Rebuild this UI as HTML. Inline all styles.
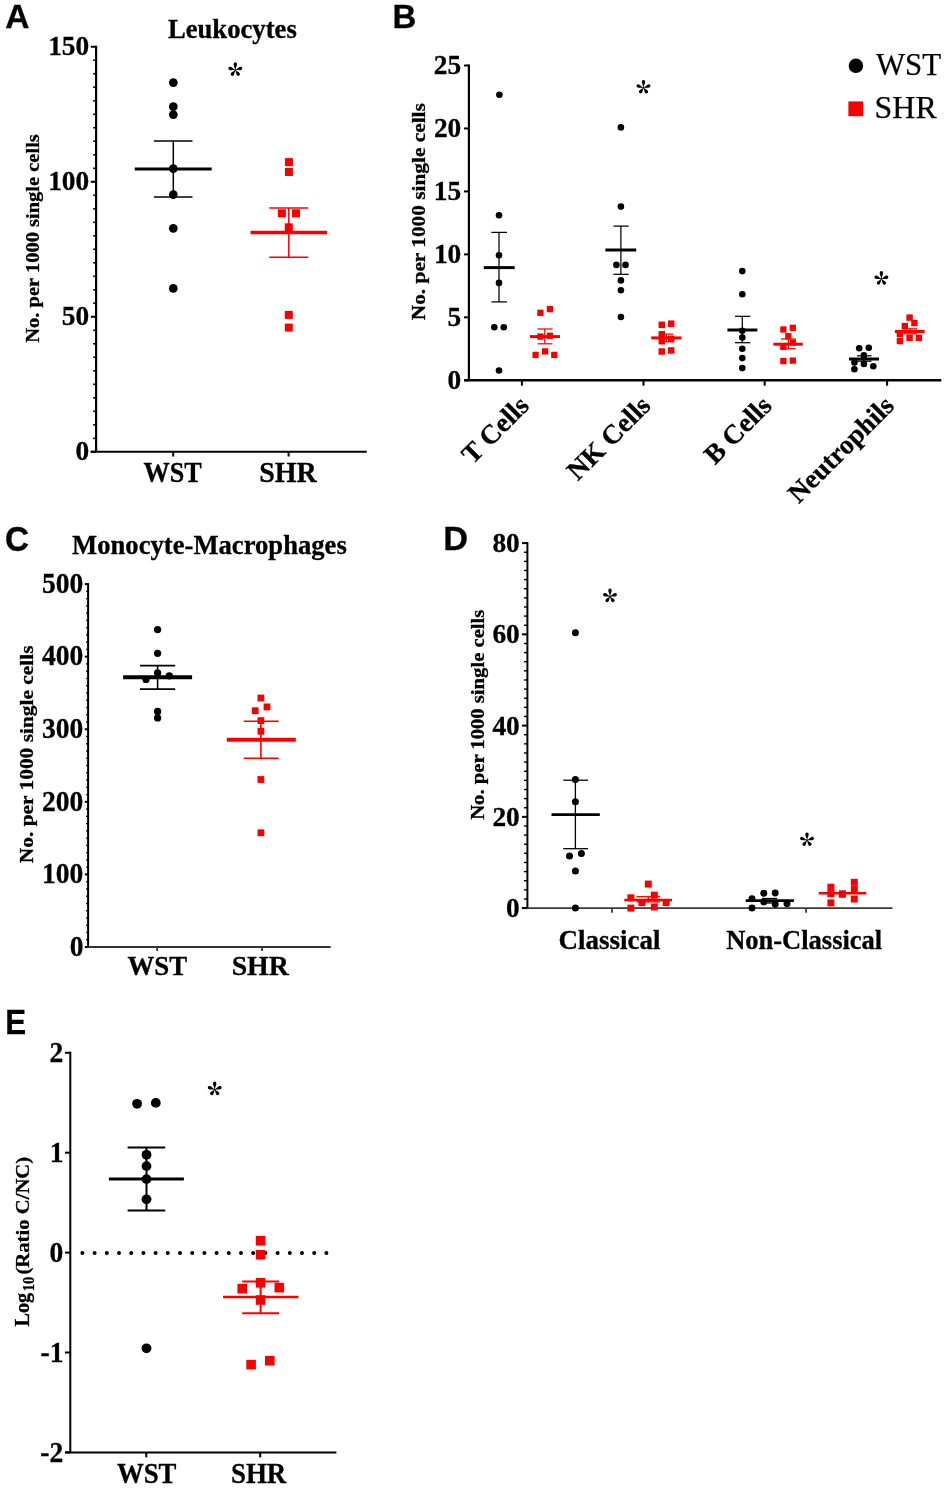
<!DOCTYPE html>
<html><head><meta charset="utf-8"><style>
html,body{margin:0;padding:0;background:#fff;}
svg{display:block;will-change:transform;}
text{stroke:#000;stroke-width:0.25px;}
text[font-weight=bold]{stroke-width:0.3px;}
</style></head><body>
<svg width="945" height="1489" viewBox="0 0 945 1489">
<rect width="945" height="1489" fill="#fff"/>
<text x="5.26" y="28.10" font-family="Liberation Sans" font-weight="bold" font-size="33.48" textLength="24.25" lengthAdjust="spacingAndGlyphs">A</text>
<text x="167.90" y="38.30" font-family="Liberation Serif, serif" font-weight="bold" font-size="26.62" textLength="128.91" lengthAdjust="spacingAndGlyphs" fill="#000">Leukocytes</text>
<line x1="96.10" y1="45.75" x2="96.10" y2="451.80" stroke="#000" stroke-width="2.2"/>
<line x1="90.70" y1="451.80" x2="366.70" y2="451.80" stroke="#000" stroke-width="2.1"/>
<line x1="90.80" y1="451.80" x2="96.10" y2="451.80" stroke="#000" stroke-width="2.0"/>
<text x="75.52" y="460.34" font-family="Liberation Serif" font-weight="bold" font-size="28.20" textLength="13.68" lengthAdjust="spacingAndGlyphs">0</text>
<line x1="93.20" y1="438.30" x2="96.10" y2="438.30" stroke="#000" stroke-width="1.6"/>
<line x1="93.20" y1="424.80" x2="96.10" y2="424.80" stroke="#000" stroke-width="1.6"/>
<line x1="93.20" y1="411.30" x2="96.10" y2="411.30" stroke="#000" stroke-width="1.6"/>
<line x1="93.20" y1="397.79" x2="96.10" y2="397.79" stroke="#000" stroke-width="1.6"/>
<line x1="93.20" y1="384.29" x2="96.10" y2="384.29" stroke="#000" stroke-width="1.6"/>
<line x1="93.20" y1="370.79" x2="96.10" y2="370.79" stroke="#000" stroke-width="1.6"/>
<line x1="93.20" y1="357.29" x2="96.10" y2="357.29" stroke="#000" stroke-width="1.6"/>
<line x1="93.20" y1="343.79" x2="96.10" y2="343.79" stroke="#000" stroke-width="1.6"/>
<line x1="93.20" y1="330.29" x2="96.10" y2="330.29" stroke="#000" stroke-width="1.6"/>
<line x1="90.80" y1="316.78" x2="96.10" y2="316.78" stroke="#000" stroke-width="2.0"/>
<text x="61.84" y="325.32" font-family="Liberation Serif" font-weight="bold" font-size="28.20" textLength="27.35" lengthAdjust="spacingAndGlyphs">50</text>
<line x1="93.20" y1="303.28" x2="96.10" y2="303.28" stroke="#000" stroke-width="1.6"/>
<line x1="93.20" y1="289.78" x2="96.10" y2="289.78" stroke="#000" stroke-width="1.6"/>
<line x1="93.20" y1="276.28" x2="96.10" y2="276.28" stroke="#000" stroke-width="1.6"/>
<line x1="93.20" y1="262.78" x2="96.10" y2="262.78" stroke="#000" stroke-width="1.6"/>
<line x1="93.20" y1="249.28" x2="96.10" y2="249.28" stroke="#000" stroke-width="1.6"/>
<line x1="93.20" y1="235.77" x2="96.10" y2="235.77" stroke="#000" stroke-width="1.6"/>
<line x1="93.20" y1="222.27" x2="96.10" y2="222.27" stroke="#000" stroke-width="1.6"/>
<line x1="93.20" y1="208.77" x2="96.10" y2="208.77" stroke="#000" stroke-width="1.6"/>
<line x1="93.20" y1="195.27" x2="96.10" y2="195.27" stroke="#000" stroke-width="1.6"/>
<line x1="90.80" y1="181.77" x2="96.10" y2="181.77" stroke="#000" stroke-width="2.0"/>
<text x="48.16" y="190.30" font-family="Liberation Serif" font-weight="bold" font-size="28.20" textLength="41.03" lengthAdjust="spacingAndGlyphs">100</text>
<line x1="93.20" y1="168.26" x2="96.10" y2="168.26" stroke="#000" stroke-width="1.6"/>
<line x1="93.20" y1="154.76" x2="96.10" y2="154.76" stroke="#000" stroke-width="1.6"/>
<line x1="93.20" y1="141.26" x2="96.10" y2="141.26" stroke="#000" stroke-width="1.6"/>
<line x1="93.20" y1="127.76" x2="96.10" y2="127.76" stroke="#000" stroke-width="1.6"/>
<line x1="93.20" y1="114.26" x2="96.10" y2="114.26" stroke="#000" stroke-width="1.6"/>
<line x1="93.20" y1="100.76" x2="96.10" y2="100.76" stroke="#000" stroke-width="1.6"/>
<line x1="93.20" y1="87.25" x2="96.10" y2="87.25" stroke="#000" stroke-width="1.6"/>
<line x1="93.20" y1="73.75" x2="96.10" y2="73.75" stroke="#000" stroke-width="1.6"/>
<line x1="93.20" y1="60.25" x2="96.10" y2="60.25" stroke="#000" stroke-width="1.6"/>
<line x1="90.80" y1="46.75" x2="96.10" y2="46.75" stroke="#000" stroke-width="2.0"/>
<text x="48.16" y="55.29" font-family="Liberation Serif" font-weight="bold" font-size="28.20" textLength="41.03" lengthAdjust="spacingAndGlyphs">150</text>
<line x1="173.20" y1="451.80" x2="173.20" y2="456.50" stroke="#000" stroke-width="2.0"/>
<line x1="288.60" y1="451.80" x2="288.60" y2="456.50" stroke="#000" stroke-width="2.0"/>
<text transform="translate(39.30,342.30) rotate(-90)" x="-0.41" y="0" font-family="Liberation Serif, serif" font-weight="bold" font-size="19.42" textLength="208.53" lengthAdjust="spacingAndGlyphs">No. per 1000 single cells</text>
<text x="143.61" y="482.10" font-family="Liberation Serif, serif" font-weight="bold" font-size="28.94" textLength="58.17" lengthAdjust="spacingAndGlyphs" fill="#000">WST</text>
<text x="259.16" y="482.10" font-family="Liberation Serif, serif" font-weight="bold" font-size="28.94" textLength="57.59" lengthAdjust="spacingAndGlyphs" fill="#000">SHR</text>
<g fill="#000"><path transform="translate(235.30,70.10) rotate(0)" d="M0,0 C-0.85,-3.12 -1.70,-4.57 -1.70,-6.10 A1.70,1.70 0 0 1 1.70,-6.10 C1.70,-4.57 0.85,-3.12 0,0 Z"/><path transform="translate(235.30,70.10) rotate(72)" d="M0,0 C-0.85,-2.88 -1.70,-3.97 -1.70,-5.50 A1.70,1.70 0 0 1 1.70,-5.50 C1.70,-3.97 0.85,-2.88 0,0 Z"/><path transform="translate(235.30,70.10) rotate(144)" d="M0,0 C-0.85,-2.68 -1.70,-3.47 -1.70,-5.00 A1.70,1.70 0 0 1 1.70,-5.00 C1.70,-3.47 0.85,-2.68 0,0 Z"/><path transform="translate(235.30,70.10) rotate(216)" d="M0,0 C-0.85,-2.68 -1.70,-3.47 -1.70,-5.00 A1.70,1.70 0 0 1 1.70,-5.00 C1.70,-3.47 0.85,-2.68 0,0 Z"/><path transform="translate(235.30,70.10) rotate(288)" d="M0,0 C-0.85,-2.88 -1.70,-3.97 -1.70,-5.50 A1.70,1.70 0 0 1 1.70,-5.50 C1.70,-3.97 0.85,-2.88 0,0 Z"/><circle cx="235.30" cy="70.10" r="0.9"/></g>
<circle cx="173.30" cy="82.60" r="4.35" fill="#000"/>
<circle cx="173.30" cy="106.70" r="4.35" fill="#000"/>
<circle cx="173.30" cy="114.60" r="4.35" fill="#000"/>
<circle cx="173.30" cy="168.60" r="4.35" fill="#000"/>
<circle cx="173.30" cy="194.60" r="4.35" fill="#000"/>
<circle cx="173.30" cy="228.30" r="4.35" fill="#000"/>
<circle cx="173.30" cy="288.40" r="4.35" fill="#000"/>
<line x1="173.30" y1="140.90" x2="173.30" y2="196.90" stroke="#000" stroke-width="1.5"/>
<line x1="153.90" y1="140.90" x2="192.50" y2="140.90" stroke="#000" stroke-width="1.5"/>
<line x1="153.90" y1="196.90" x2="192.50" y2="196.90" stroke="#000" stroke-width="1.5"/>
<line x1="134.80" y1="169.00" x2="211.70" y2="169.00" stroke="#000" stroke-width="3.2"/>
<rect x="284.90" y="158.10" width="8.00" height="8.00" fill="#f80000"/>
<rect x="284.90" y="168.00" width="8.00" height="8.00" fill="#f80000"/>
<rect x="277.90" y="209.30" width="8.00" height="8.00" fill="#f80000"/>
<rect x="292.00" y="209.30" width="8.00" height="8.00" fill="#f80000"/>
<rect x="284.80" y="223.30" width="8.00" height="8.00" fill="#f80000"/>
<rect x="284.80" y="310.90" width="8.00" height="8.00" fill="#f80000"/>
<rect x="284.80" y="323.60" width="8.00" height="8.00" fill="#f80000"/>
<line x1="288.80" y1="208.10" x2="288.80" y2="257.20" stroke="#f80000" stroke-width="1.5"/>
<line x1="269.30" y1="208.10" x2="308.30" y2="208.10" stroke="#f80000" stroke-width="1.5"/>
<line x1="269.30" y1="257.20" x2="308.30" y2="257.20" stroke="#f80000" stroke-width="1.5"/>
<line x1="250.50" y1="232.50" x2="327.10" y2="232.50" stroke="#f80000" stroke-width="3.3"/>
<text x="392.56" y="28.10" font-family="Liberation Sans" font-weight="bold" font-size="33.91" textLength="23.80" lengthAdjust="spacingAndGlyphs">B</text>
<line x1="468.90" y1="64.50" x2="468.90" y2="380.30" stroke="#000" stroke-width="2.2"/>
<line x1="464.00" y1="380.30" x2="941.30" y2="380.30" stroke="#000" stroke-width="2.4"/>
<line x1="464.00" y1="380.30" x2="468.90" y2="380.30" stroke="#000" stroke-width="2.0"/>
<text x="447.62" y="388.84" font-family="Liberation Serif" font-weight="bold" font-size="28.20" textLength="13.68" lengthAdjust="spacingAndGlyphs">0</text>
<line x1="464.00" y1="317.34" x2="468.90" y2="317.34" stroke="#000" stroke-width="2.0"/>
<text x="447.48" y="325.73" font-family="Liberation Serif" font-weight="bold" font-size="28.20" textLength="13.68" lengthAdjust="spacingAndGlyphs">5</text>
<line x1="464.00" y1="254.38" x2="468.90" y2="254.38" stroke="#000" stroke-width="2.0"/>
<text x="433.94" y="262.92" font-family="Liberation Serif" font-weight="bold" font-size="28.20" textLength="27.35" lengthAdjust="spacingAndGlyphs">10</text>
<line x1="464.00" y1="191.42" x2="468.90" y2="191.42" stroke="#000" stroke-width="2.0"/>
<text x="433.80" y="199.89" font-family="Liberation Serif" font-weight="bold" font-size="28.20" textLength="27.35" lengthAdjust="spacingAndGlyphs">15</text>
<line x1="464.00" y1="128.46" x2="468.90" y2="128.46" stroke="#000" stroke-width="2.0"/>
<text x="433.94" y="137.00" font-family="Liberation Serif" font-weight="bold" font-size="28.20" textLength="27.35" lengthAdjust="spacingAndGlyphs">20</text>
<line x1="464.00" y1="65.50" x2="468.90" y2="65.50" stroke="#000" stroke-width="2.0"/>
<text x="433.80" y="73.96" font-family="Liberation Serif" font-weight="bold" font-size="28.20" textLength="27.35" lengthAdjust="spacingAndGlyphs">25</text>
<line x1="521.90" y1="380.30" x2="521.90" y2="385.70" stroke="#000" stroke-width="2.0"/>
<line x1="643.50" y1="380.30" x2="643.50" y2="385.70" stroke="#000" stroke-width="2.0"/>
<line x1="764.70" y1="380.30" x2="764.70" y2="385.70" stroke="#000" stroke-width="2.0"/>
<line x1="887.10" y1="380.30" x2="887.10" y2="385.70" stroke="#000" stroke-width="2.0"/>
<text transform="translate(425.30,319.80) rotate(-90)" x="-0.43" y="0" font-family="Liberation Serif, serif" font-weight="bold" font-size="18.99" textLength="217.06" lengthAdjust="spacingAndGlyphs">No. per 1000 single cells</text>
<circle cx="855.90" cy="65.80" r="7.25" fill="#000"/>
<rect x="848.40" y="101.40" width="14.80" height="14.80" fill="#f80000"/>
<text x="876.00" y="75.20" font-family="Liberation Serif, serif" font-weight="normal" font-size="32.58" textLength="65.09" lengthAdjust="spacingAndGlyphs" fill="#000">WST</text>
<text x="874.63" y="118.20" font-family="Liberation Serif, serif" font-weight="normal" font-size="31.52" textLength="62.09" lengthAdjust="spacingAndGlyphs" fill="#000">SHR</text>
<g fill="#000"><path transform="translate(643.50,87.70) rotate(0)" d="M0,0 C-0.85,-3.12 -1.70,-4.57 -1.70,-6.10 A1.70,1.70 0 0 1 1.70,-6.10 C1.70,-4.57 0.85,-3.12 0,0 Z"/><path transform="translate(643.50,87.70) rotate(72)" d="M0,0 C-0.85,-2.88 -1.70,-3.97 -1.70,-5.50 A1.70,1.70 0 0 1 1.70,-5.50 C1.70,-3.97 0.85,-2.88 0,0 Z"/><path transform="translate(643.50,87.70) rotate(144)" d="M0,0 C-0.85,-2.68 -1.70,-3.47 -1.70,-5.00 A1.70,1.70 0 0 1 1.70,-5.00 C1.70,-3.47 0.85,-2.68 0,0 Z"/><path transform="translate(643.50,87.70) rotate(216)" d="M0,0 C-0.85,-2.68 -1.70,-3.47 -1.70,-5.00 A1.70,1.70 0 0 1 1.70,-5.00 C1.70,-3.47 0.85,-2.68 0,0 Z"/><path transform="translate(643.50,87.70) rotate(288)" d="M0,0 C-0.85,-2.88 -1.70,-3.97 -1.70,-5.50 A1.70,1.70 0 0 1 1.70,-5.50 C1.70,-3.97 0.85,-2.88 0,0 Z"/><circle cx="643.50" cy="87.70" r="0.9"/></g>
<g fill="#000"><path transform="translate(881.40,278.90) rotate(0)" d="M0,0 C-0.85,-3.12 -1.70,-4.57 -1.70,-6.10 A1.70,1.70 0 0 1 1.70,-6.10 C1.70,-4.57 0.85,-3.12 0,0 Z"/><path transform="translate(881.40,278.90) rotate(72)" d="M0,0 C-0.85,-2.88 -1.70,-3.97 -1.70,-5.50 A1.70,1.70 0 0 1 1.70,-5.50 C1.70,-3.97 0.85,-2.88 0,0 Z"/><path transform="translate(881.40,278.90) rotate(144)" d="M0,0 C-0.85,-2.68 -1.70,-3.47 -1.70,-5.00 A1.70,1.70 0 0 1 1.70,-5.00 C1.70,-3.47 0.85,-2.68 0,0 Z"/><path transform="translate(881.40,278.90) rotate(216)" d="M0,0 C-0.85,-2.68 -1.70,-3.47 -1.70,-5.00 A1.70,1.70 0 0 1 1.70,-5.00 C1.70,-3.47 0.85,-2.68 0,0 Z"/><path transform="translate(881.40,278.90) rotate(288)" d="M0,0 C-0.85,-2.88 -1.70,-3.97 -1.70,-5.50 A1.70,1.70 0 0 1 1.70,-5.50 C1.70,-3.97 0.85,-2.88 0,0 Z"/><circle cx="881.40" cy="278.90" r="0.9"/></g>
<circle cx="499.40" cy="94.70" r="3.30" fill="#000"/>
<circle cx="499.00" cy="215.20" r="3.30" fill="#000"/>
<circle cx="499.00" cy="255.20" r="3.30" fill="#000"/>
<circle cx="499.00" cy="282.90" r="3.30" fill="#000"/>
<circle cx="494.30" cy="327.20" r="3.30" fill="#000"/>
<circle cx="503.80" cy="327.20" r="3.30" fill="#000"/>
<circle cx="499.00" cy="370.50" r="3.30" fill="#000"/>
<line x1="499.00" y1="232.40" x2="499.00" y2="301.90" stroke="#000" stroke-width="1.25"/>
<line x1="491.40" y1="232.40" x2="507.00" y2="232.40" stroke="#000" stroke-width="1.25"/>
<line x1="491.40" y1="301.90" x2="507.00" y2="301.90" stroke="#000" stroke-width="1.25"/>
<line x1="483.80" y1="267.60" x2="514.70" y2="267.60" stroke="#000" stroke-width="3.0"/>
<rect x="537.25" y="309.65" width="6.30" height="6.30" fill="#f80000"/>
<rect x="546.75" y="305.95" width="6.30" height="6.30" fill="#f80000"/>
<rect x="537.25" y="333.45" width="6.30" height="6.30" fill="#f80000"/>
<rect x="546.75" y="332.65" width="6.30" height="6.30" fill="#f80000"/>
<rect x="532.45" y="351.75" width="6.30" height="6.30" fill="#f80000"/>
<rect x="541.95" y="348.25" width="6.30" height="6.30" fill="#f80000"/>
<rect x="551.15" y="351.75" width="6.30" height="6.30" fill="#f80000"/>
<line x1="544.80" y1="329.00" x2="544.80" y2="343.80" stroke="#f80000" stroke-width="1.25"/>
<line x1="537.50" y1="329.00" x2="552.40" y2="329.00" stroke="#f80000" stroke-width="1.25"/>
<line x1="537.50" y1="343.80" x2="552.40" y2="343.80" stroke="#f80000" stroke-width="1.25"/>
<line x1="529.90" y1="336.60" x2="560.00" y2="336.60" stroke="#f80000" stroke-width="3.0"/>
<circle cx="620.90" cy="127.40" r="3.30" fill="#000"/>
<circle cx="620.90" cy="206.60" r="3.30" fill="#000"/>
<circle cx="616.40" cy="264.90" r="3.30" fill="#000"/>
<circle cx="625.50" cy="264.90" r="3.30" fill="#000"/>
<circle cx="620.90" cy="280.40" r="3.30" fill="#000"/>
<circle cx="620.90" cy="290.20" r="3.30" fill="#000"/>
<circle cx="620.90" cy="317.00" r="3.30" fill="#000"/>
<line x1="620.90" y1="226.10" x2="620.90" y2="274.30" stroke="#000" stroke-width="1.25"/>
<line x1="613.40" y1="226.10" x2="628.70" y2="226.10" stroke="#000" stroke-width="1.25"/>
<line x1="613.40" y1="274.30" x2="628.70" y2="274.30" stroke="#000" stroke-width="1.25"/>
<line x1="605.40" y1="250.00" x2="636.20" y2="250.00" stroke="#000" stroke-width="3.0"/>
<rect x="658.55" y="321.55" width="6.50" height="6.50" fill="#f80000"/>
<rect x="667.95" y="320.45" width="6.50" height="6.50" fill="#f80000"/>
<rect x="658.55" y="331.05" width="6.50" height="6.50" fill="#f80000"/>
<rect x="658.55" y="337.95" width="6.50" height="6.50" fill="#f80000"/>
<rect x="667.95" y="335.55" width="6.50" height="6.50" fill="#f80000"/>
<rect x="658.55" y="348.25" width="6.50" height="6.50" fill="#f80000"/>
<rect x="667.95" y="347.25" width="6.50" height="6.50" fill="#f80000"/>
<line x1="666.40" y1="334.10" x2="666.40" y2="341.80" stroke="#f80000" stroke-width="1.25"/>
<line x1="659.50" y1="334.10" x2="673.30" y2="334.10" stroke="#f80000" stroke-width="1.25"/>
<line x1="659.50" y1="341.80" x2="673.30" y2="341.80" stroke="#f80000" stroke-width="1.25"/>
<line x1="651.20" y1="337.90" x2="681.50" y2="337.90" stroke="#f80000" stroke-width="3.0"/>
<circle cx="742.30" cy="271.10" r="3.30" fill="#000"/>
<circle cx="742.30" cy="294.20" r="3.30" fill="#000"/>
<circle cx="742.30" cy="330.80" r="3.30" fill="#000"/>
<circle cx="742.30" cy="337.50" r="3.30" fill="#000"/>
<circle cx="742.30" cy="348.70" r="3.30" fill="#000"/>
<circle cx="742.30" cy="358.10" r="3.30" fill="#000"/>
<circle cx="742.30" cy="368.10" r="3.30" fill="#000"/>
<line x1="742.30" y1="316.30" x2="742.30" y2="342.70" stroke="#000" stroke-width="1.25"/>
<line x1="734.90" y1="316.30" x2="750.30" y2="316.30" stroke="#000" stroke-width="1.25"/>
<line x1="734.90" y1="342.70" x2="750.30" y2="342.70" stroke="#000" stroke-width="1.25"/>
<line x1="727.40" y1="330.00" x2="757.30" y2="330.00" stroke="#000" stroke-width="3.0"/>
<rect x="780.25" y="326.35" width="6.30" height="6.30" fill="#f80000"/>
<rect x="789.65" y="324.65" width="6.30" height="6.30" fill="#f80000"/>
<rect x="785.15" y="333.05" width="6.30" height="6.30" fill="#f80000"/>
<rect x="789.65" y="339.35" width="6.30" height="6.30" fill="#f80000"/>
<rect x="780.25" y="343.75" width="6.30" height="6.30" fill="#f80000"/>
<rect x="780.25" y="357.95" width="6.30" height="6.30" fill="#f80000"/>
<rect x="789.65" y="357.45" width="6.30" height="6.30" fill="#f80000"/>
<line x1="788.30" y1="339.00" x2="788.30" y2="348.70" stroke="#f80000" stroke-width="1.25"/>
<line x1="781.00" y1="339.00" x2="795.60" y2="339.00" stroke="#f80000" stroke-width="1.25"/>
<line x1="781.00" y1="348.70" x2="795.60" y2="348.70" stroke="#f80000" stroke-width="1.25"/>
<line x1="773.40" y1="344.20" x2="802.80" y2="344.20" stroke="#f80000" stroke-width="3.0"/>
<circle cx="859.20" cy="348.20" r="3.30" fill="#000"/>
<circle cx="868.80" cy="347.70" r="3.30" fill="#000"/>
<circle cx="863.90" cy="355.40" r="3.30" fill="#000"/>
<circle cx="863.90" cy="363.90" r="3.30" fill="#000"/>
<circle cx="854.40" cy="362.60" r="3.30" fill="#000"/>
<circle cx="854.40" cy="369.30" r="3.30" fill="#000"/>
<circle cx="873.30" cy="366.20" r="3.30" fill="#000"/>
<line x1="864.00" y1="355.80" x2="864.00" y2="361.20" stroke="#000" stroke-width="1.25"/>
<line x1="857.10" y1="355.80" x2="871.50" y2="355.80" stroke="#000" stroke-width="1.25"/>
<line x1="857.10" y1="361.20" x2="871.50" y2="361.20" stroke="#000" stroke-width="1.25"/>
<line x1="849.00" y1="359.00" x2="879.00" y2="359.00" stroke="#000" stroke-width="3.0"/>
<rect x="906.40" y="314.40" width="6.40" height="6.40" fill="#f80000"/>
<rect x="911.20" y="319.80" width="6.40" height="6.40" fill="#f80000"/>
<rect x="901.60" y="322.90" width="6.40" height="6.40" fill="#f80000"/>
<rect x="896.70" y="330.60" width="6.40" height="6.40" fill="#f80000"/>
<rect x="896.70" y="337.80" width="6.40" height="6.40" fill="#f80000"/>
<rect x="906.40" y="334.60" width="6.40" height="6.40" fill="#f80000"/>
<rect x="915.70" y="334.60" width="6.40" height="6.40" fill="#f80000"/>
<line x1="910.20" y1="328.80" x2="910.20" y2="333.80" stroke="#f80000" stroke-width="1.25"/>
<line x1="903.50" y1="328.80" x2="917.00" y2="328.80" stroke="#f80000" stroke-width="1.25"/>
<line x1="903.50" y1="333.80" x2="917.00" y2="333.80" stroke="#f80000" stroke-width="1.25"/>
<line x1="894.90" y1="331.50" x2="924.60" y2="331.50" stroke="#f80000" stroke-width="3.0"/>
<text transform="translate(530.40,407.30) rotate(-45)" text-anchor="end" font-family="Liberation Serif" font-weight="bold" font-size="27.2">T Cells</text>
<text transform="translate(652.00,407.30) rotate(-45)" text-anchor="end" font-family="Liberation Serif" font-weight="bold" font-size="27.2">NK Cells</text>
<text transform="translate(773.20,407.30) rotate(-45)" text-anchor="end" font-family="Liberation Serif" font-weight="bold" font-size="27.2">B Cells</text>
<text transform="translate(895.60,407.30) rotate(-45)" text-anchor="end" font-family="Liberation Serif" font-weight="bold" font-size="27.2">Neutrophils</text>
<text x="4.97" y="550.95" font-family="Liberation Sans" font-weight="bold" font-size="34.79" textLength="24.04" lengthAdjust="spacingAndGlyphs">C</text>
<text x="72.10" y="554.00" font-family="Liberation Serif, serif" font-weight="bold" font-size="27.91" textLength="274.70" lengthAdjust="spacingAndGlyphs" fill="#000">Monocyte-Macrophages</text>
<line x1="88.10" y1="583.10" x2="88.10" y2="947.00" stroke="#000" stroke-width="2.0"/>
<line x1="85.20" y1="947.00" x2="330.70" y2="947.00" stroke="#333" stroke-width="1.8"/>
<line x1="84.80" y1="947.00" x2="88.10" y2="947.00" stroke="#000" stroke-width="2.0"/>
<text x="69.63" y="955.80" font-family="Liberation Serif" font-weight="bold" font-size="29.00" textLength="13.77" lengthAdjust="spacingAndGlyphs">0</text>
<line x1="86.10" y1="939.74" x2="88.10" y2="939.74" stroke="#000" stroke-width="1.4"/>
<line x1="86.10" y1="932.48" x2="88.10" y2="932.48" stroke="#000" stroke-width="1.4"/>
<line x1="86.10" y1="925.23" x2="88.10" y2="925.23" stroke="#000" stroke-width="1.4"/>
<line x1="86.10" y1="917.97" x2="88.10" y2="917.97" stroke="#000" stroke-width="1.4"/>
<line x1="86.10" y1="910.71" x2="88.10" y2="910.71" stroke="#000" stroke-width="1.4"/>
<line x1="86.10" y1="903.45" x2="88.10" y2="903.45" stroke="#000" stroke-width="1.4"/>
<line x1="86.10" y1="896.19" x2="88.10" y2="896.19" stroke="#000" stroke-width="1.4"/>
<line x1="86.10" y1="888.94" x2="88.10" y2="888.94" stroke="#000" stroke-width="1.4"/>
<line x1="86.10" y1="881.68" x2="88.10" y2="881.68" stroke="#000" stroke-width="1.4"/>
<line x1="84.80" y1="874.42" x2="88.10" y2="874.42" stroke="#000" stroke-width="2.0"/>
<text x="42.08" y="883.22" font-family="Liberation Serif" font-weight="bold" font-size="29.00" textLength="41.32" lengthAdjust="spacingAndGlyphs">100</text>
<line x1="86.10" y1="867.16" x2="88.10" y2="867.16" stroke="#000" stroke-width="1.4"/>
<line x1="86.10" y1="859.90" x2="88.10" y2="859.90" stroke="#000" stroke-width="1.4"/>
<line x1="86.10" y1="852.65" x2="88.10" y2="852.65" stroke="#000" stroke-width="1.4"/>
<line x1="86.10" y1="845.39" x2="88.10" y2="845.39" stroke="#000" stroke-width="1.4"/>
<line x1="86.10" y1="838.13" x2="88.10" y2="838.13" stroke="#000" stroke-width="1.4"/>
<line x1="86.10" y1="830.87" x2="88.10" y2="830.87" stroke="#000" stroke-width="1.4"/>
<line x1="86.10" y1="823.61" x2="88.10" y2="823.61" stroke="#000" stroke-width="1.4"/>
<line x1="86.10" y1="816.36" x2="88.10" y2="816.36" stroke="#000" stroke-width="1.4"/>
<line x1="86.10" y1="809.10" x2="88.10" y2="809.10" stroke="#000" stroke-width="1.4"/>
<line x1="84.80" y1="801.84" x2="88.10" y2="801.84" stroke="#000" stroke-width="2.0"/>
<text x="42.08" y="810.64" font-family="Liberation Serif" font-weight="bold" font-size="29.00" textLength="41.32" lengthAdjust="spacingAndGlyphs">200</text>
<line x1="86.10" y1="794.58" x2="88.10" y2="794.58" stroke="#000" stroke-width="1.4"/>
<line x1="86.10" y1="787.32" x2="88.10" y2="787.32" stroke="#000" stroke-width="1.4"/>
<line x1="86.10" y1="780.07" x2="88.10" y2="780.07" stroke="#000" stroke-width="1.4"/>
<line x1="86.10" y1="772.81" x2="88.10" y2="772.81" stroke="#000" stroke-width="1.4"/>
<line x1="86.10" y1="765.55" x2="88.10" y2="765.55" stroke="#000" stroke-width="1.4"/>
<line x1="86.10" y1="758.29" x2="88.10" y2="758.29" stroke="#000" stroke-width="1.4"/>
<line x1="86.10" y1="751.03" x2="88.10" y2="751.03" stroke="#000" stroke-width="1.4"/>
<line x1="86.10" y1="743.78" x2="88.10" y2="743.78" stroke="#000" stroke-width="1.4"/>
<line x1="86.10" y1="736.52" x2="88.10" y2="736.52" stroke="#000" stroke-width="1.4"/>
<line x1="84.80" y1="729.26" x2="88.10" y2="729.26" stroke="#000" stroke-width="2.0"/>
<text x="42.08" y="738.06" font-family="Liberation Serif" font-weight="bold" font-size="29.00" textLength="41.32" lengthAdjust="spacingAndGlyphs">300</text>
<line x1="86.10" y1="722.00" x2="88.10" y2="722.00" stroke="#000" stroke-width="1.4"/>
<line x1="86.10" y1="714.74" x2="88.10" y2="714.74" stroke="#000" stroke-width="1.4"/>
<line x1="86.10" y1="707.49" x2="88.10" y2="707.49" stroke="#000" stroke-width="1.4"/>
<line x1="86.10" y1="700.23" x2="88.10" y2="700.23" stroke="#000" stroke-width="1.4"/>
<line x1="86.10" y1="692.97" x2="88.10" y2="692.97" stroke="#000" stroke-width="1.4"/>
<line x1="86.10" y1="685.71" x2="88.10" y2="685.71" stroke="#000" stroke-width="1.4"/>
<line x1="86.10" y1="678.45" x2="88.10" y2="678.45" stroke="#000" stroke-width="1.4"/>
<line x1="86.10" y1="671.20" x2="88.10" y2="671.20" stroke="#000" stroke-width="1.4"/>
<line x1="86.10" y1="663.94" x2="88.10" y2="663.94" stroke="#000" stroke-width="1.4"/>
<line x1="84.80" y1="656.68" x2="88.10" y2="656.68" stroke="#000" stroke-width="2.0"/>
<text x="42.08" y="665.48" font-family="Liberation Serif" font-weight="bold" font-size="29.00" textLength="41.32" lengthAdjust="spacingAndGlyphs">400</text>
<line x1="86.10" y1="649.42" x2="88.10" y2="649.42" stroke="#000" stroke-width="1.4"/>
<line x1="86.10" y1="642.16" x2="88.10" y2="642.16" stroke="#000" stroke-width="1.4"/>
<line x1="86.10" y1="634.91" x2="88.10" y2="634.91" stroke="#000" stroke-width="1.4"/>
<line x1="86.10" y1="627.65" x2="88.10" y2="627.65" stroke="#000" stroke-width="1.4"/>
<line x1="86.10" y1="620.39" x2="88.10" y2="620.39" stroke="#000" stroke-width="1.4"/>
<line x1="86.10" y1="613.13" x2="88.10" y2="613.13" stroke="#000" stroke-width="1.4"/>
<line x1="86.10" y1="605.87" x2="88.10" y2="605.87" stroke="#000" stroke-width="1.4"/>
<line x1="86.10" y1="598.62" x2="88.10" y2="598.62" stroke="#000" stroke-width="1.4"/>
<line x1="86.10" y1="591.36" x2="88.10" y2="591.36" stroke="#000" stroke-width="1.4"/>
<line x1="84.80" y1="584.10" x2="88.10" y2="584.10" stroke="#000" stroke-width="2.0"/>
<text x="42.08" y="592.90" font-family="Liberation Serif" font-weight="bold" font-size="29.00" textLength="41.32" lengthAdjust="spacingAndGlyphs">500</text>
<line x1="157.20" y1="947.00" x2="157.20" y2="951.00" stroke="#333" stroke-width="1.8"/>
<line x1="262.00" y1="947.00" x2="262.00" y2="951.00" stroke="#333" stroke-width="1.8"/>
<text transform="translate(32.70,862.80) rotate(-90)" x="-0.43" y="0" font-family="Liberation Serif, serif" font-weight="bold" font-size="19.42" textLength="217.77" lengthAdjust="spacingAndGlyphs">No. per 1000 single cells</text>
<text x="127.40" y="975.40" font-family="Liberation Serif, serif" font-weight="bold" font-size="28.33" textLength="59.69" lengthAdjust="spacingAndGlyphs" fill="#000">WST</text>
<text x="231.67" y="975.40" font-family="Liberation Serif, serif" font-weight="bold" font-size="28.33" textLength="57.18" lengthAdjust="spacingAndGlyphs" fill="#000">SHR</text>
<circle cx="157.60" cy="629.60" r="3.65" fill="#000"/>
<circle cx="157.60" cy="653.30" r="3.65" fill="#000"/>
<circle cx="157.60" cy="673.00" r="3.65" fill="#000"/>
<circle cx="146.00" cy="679.40" r="3.65" fill="#000"/>
<circle cx="169.30" cy="675.80" r="3.65" fill="#000"/>
<circle cx="157.60" cy="711.50" r="3.65" fill="#000"/>
<circle cx="157.60" cy="717.90" r="3.65" fill="#000"/>
<line x1="157.60" y1="665.60" x2="157.60" y2="689.10" stroke="#000" stroke-width="1.6"/>
<line x1="140.00" y1="665.60" x2="175.20" y2="665.60" stroke="#000" stroke-width="1.6"/>
<line x1="140.00" y1="689.10" x2="175.20" y2="689.10" stroke="#000" stroke-width="1.6"/>
<line x1="123.10" y1="677.20" x2="192.10" y2="677.20" stroke="#000" stroke-width="4.0"/>
<rect x="257.50" y="694.60" width="6.80" height="6.80" fill="#f80000"/>
<rect x="263.60" y="703.50" width="6.80" height="6.80" fill="#f80000"/>
<rect x="251.80" y="707.30" width="6.80" height="6.80" fill="#f80000"/>
<rect x="257.50" y="717.20" width="6.80" height="6.80" fill="#f80000"/>
<rect x="257.50" y="727.80" width="6.80" height="6.80" fill="#f80000"/>
<rect x="257.50" y="776.10" width="6.80" height="6.80" fill="#f80000"/>
<rect x="257.50" y="829.40" width="6.80" height="6.80" fill="#f80000"/>
<line x1="260.90" y1="721.30" x2="260.90" y2="758.30" stroke="#f80000" stroke-width="1.6"/>
<line x1="243.80" y1="721.30" x2="278.70" y2="721.30" stroke="#f80000" stroke-width="1.6"/>
<line x1="243.80" y1="758.30" x2="278.70" y2="758.30" stroke="#f80000" stroke-width="1.6"/>
<line x1="226.80" y1="739.70" x2="295.80" y2="739.70" stroke="#f80000" stroke-width="4.0"/>
<text x="443.37" y="549.60" font-family="Liberation Sans" font-weight="bold" font-size="34.06" textLength="24.78" lengthAdjust="spacingAndGlyphs">D</text>
<line x1="527.40" y1="542.10" x2="527.40" y2="908.10" stroke="#000" stroke-width="2.0"/>
<line x1="521.70" y1="908.10" x2="892.40" y2="908.10" stroke="#3a3a3a" stroke-width="1.9"/>
<line x1="522.00" y1="908.10" x2="527.40" y2="908.10" stroke="#000" stroke-width="2.0"/>
<text x="506.12" y="917.24" font-family="Liberation Serif" font-weight="bold" font-size="28.20" textLength="13.68" lengthAdjust="spacingAndGlyphs">0</text>
<line x1="524.00" y1="898.98" x2="527.40" y2="898.98" stroke="#000" stroke-width="1.4"/>
<line x1="524.00" y1="889.85" x2="527.40" y2="889.85" stroke="#000" stroke-width="1.4"/>
<line x1="524.00" y1="880.73" x2="527.40" y2="880.73" stroke="#000" stroke-width="1.4"/>
<line x1="524.00" y1="871.60" x2="527.40" y2="871.60" stroke="#000" stroke-width="1.4"/>
<line x1="524.00" y1="862.48" x2="527.40" y2="862.48" stroke="#000" stroke-width="1.4"/>
<line x1="524.00" y1="853.35" x2="527.40" y2="853.35" stroke="#000" stroke-width="1.4"/>
<line x1="524.00" y1="844.23" x2="527.40" y2="844.23" stroke="#000" stroke-width="1.4"/>
<line x1="524.00" y1="835.10" x2="527.40" y2="835.10" stroke="#000" stroke-width="1.4"/>
<line x1="524.00" y1="825.98" x2="527.40" y2="825.98" stroke="#000" stroke-width="1.4"/>
<line x1="522.00" y1="816.85" x2="527.40" y2="816.85" stroke="#000" stroke-width="2.0"/>
<text x="492.44" y="825.99" font-family="Liberation Serif" font-weight="bold" font-size="28.20" textLength="27.35" lengthAdjust="spacingAndGlyphs">20</text>
<line x1="524.00" y1="807.73" x2="527.40" y2="807.73" stroke="#000" stroke-width="1.4"/>
<line x1="524.00" y1="798.60" x2="527.40" y2="798.60" stroke="#000" stroke-width="1.4"/>
<line x1="524.00" y1="789.48" x2="527.40" y2="789.48" stroke="#000" stroke-width="1.4"/>
<line x1="524.00" y1="780.35" x2="527.40" y2="780.35" stroke="#000" stroke-width="1.4"/>
<line x1="524.00" y1="771.23" x2="527.40" y2="771.23" stroke="#000" stroke-width="1.4"/>
<line x1="524.00" y1="762.10" x2="527.40" y2="762.10" stroke="#000" stroke-width="1.4"/>
<line x1="524.00" y1="752.98" x2="527.40" y2="752.98" stroke="#000" stroke-width="1.4"/>
<line x1="524.00" y1="743.85" x2="527.40" y2="743.85" stroke="#000" stroke-width="1.4"/>
<line x1="524.00" y1="734.73" x2="527.40" y2="734.73" stroke="#000" stroke-width="1.4"/>
<line x1="522.00" y1="725.60" x2="527.40" y2="725.60" stroke="#000" stroke-width="2.0"/>
<text x="492.44" y="734.74" font-family="Liberation Serif" font-weight="bold" font-size="28.20" textLength="27.35" lengthAdjust="spacingAndGlyphs">40</text>
<line x1="524.00" y1="716.48" x2="527.40" y2="716.48" stroke="#000" stroke-width="1.4"/>
<line x1="524.00" y1="707.35" x2="527.40" y2="707.35" stroke="#000" stroke-width="1.4"/>
<line x1="524.00" y1="698.23" x2="527.40" y2="698.23" stroke="#000" stroke-width="1.4"/>
<line x1="524.00" y1="689.10" x2="527.40" y2="689.10" stroke="#000" stroke-width="1.4"/>
<line x1="524.00" y1="679.98" x2="527.40" y2="679.98" stroke="#000" stroke-width="1.4"/>
<line x1="524.00" y1="670.85" x2="527.40" y2="670.85" stroke="#000" stroke-width="1.4"/>
<line x1="524.00" y1="661.73" x2="527.40" y2="661.73" stroke="#000" stroke-width="1.4"/>
<line x1="524.00" y1="652.60" x2="527.40" y2="652.60" stroke="#000" stroke-width="1.4"/>
<line x1="524.00" y1="643.48" x2="527.40" y2="643.48" stroke="#000" stroke-width="1.4"/>
<line x1="522.00" y1="634.35" x2="527.40" y2="634.35" stroke="#000" stroke-width="2.0"/>
<text x="492.44" y="643.49" font-family="Liberation Serif" font-weight="bold" font-size="28.20" textLength="27.35" lengthAdjust="spacingAndGlyphs">60</text>
<line x1="524.00" y1="625.23" x2="527.40" y2="625.23" stroke="#000" stroke-width="1.4"/>
<line x1="524.00" y1="616.10" x2="527.40" y2="616.10" stroke="#000" stroke-width="1.4"/>
<line x1="524.00" y1="606.98" x2="527.40" y2="606.98" stroke="#000" stroke-width="1.4"/>
<line x1="524.00" y1="597.85" x2="527.40" y2="597.85" stroke="#000" stroke-width="1.4"/>
<line x1="524.00" y1="588.73" x2="527.40" y2="588.73" stroke="#000" stroke-width="1.4"/>
<line x1="524.00" y1="579.60" x2="527.40" y2="579.60" stroke="#000" stroke-width="1.4"/>
<line x1="524.00" y1="570.48" x2="527.40" y2="570.48" stroke="#000" stroke-width="1.4"/>
<line x1="524.00" y1="561.35" x2="527.40" y2="561.35" stroke="#000" stroke-width="1.4"/>
<line x1="524.00" y1="552.23" x2="527.40" y2="552.23" stroke="#000" stroke-width="1.4"/>
<line x1="522.00" y1="543.10" x2="527.40" y2="543.10" stroke="#000" stroke-width="2.0"/>
<text x="492.44" y="552.24" font-family="Liberation Serif" font-weight="bold" font-size="28.20" textLength="27.35" lengthAdjust="spacingAndGlyphs">80</text>
<line x1="612.00" y1="908.10" x2="612.00" y2="912.80" stroke="#3a3a3a" stroke-width="1.8"/>
<line x1="806.10" y1="908.10" x2="806.10" y2="912.80" stroke="#3a3a3a" stroke-width="1.8"/>
<text transform="translate(483.50,819.40) rotate(-90)" x="-0.41" y="0" font-family="Liberation Serif, serif" font-weight="bold" font-size="18.13" textLength="210.13" lengthAdjust="spacingAndGlyphs">No. per 1000 single cells</text>
<text x="558.45" y="948.80" font-family="Liberation Serif, serif" font-weight="bold" font-size="27.34" textLength="102.03" lengthAdjust="spacingAndGlyphs" fill="#000">Classical</text>
<text x="726.17" y="948.80" font-family="Liberation Serif, serif" font-weight="bold" font-size="27.34" textLength="156.04" lengthAdjust="spacingAndGlyphs" fill="#000">Non-Classical</text>
<g fill="#000"><path transform="translate(610.00,596.40) rotate(0)" d="M0,0 C-0.85,-3.12 -1.70,-4.57 -1.70,-6.10 A1.70,1.70 0 0 1 1.70,-6.10 C1.70,-4.57 0.85,-3.12 0,0 Z"/><path transform="translate(610.00,596.40) rotate(72)" d="M0,0 C-0.85,-2.88 -1.70,-3.97 -1.70,-5.50 A1.70,1.70 0 0 1 1.70,-5.50 C1.70,-3.97 0.85,-2.88 0,0 Z"/><path transform="translate(610.00,596.40) rotate(144)" d="M0,0 C-0.85,-2.68 -1.70,-3.47 -1.70,-5.00 A1.70,1.70 0 0 1 1.70,-5.00 C1.70,-3.47 0.85,-2.68 0,0 Z"/><path transform="translate(610.00,596.40) rotate(216)" d="M0,0 C-0.85,-2.68 -1.70,-3.47 -1.70,-5.00 A1.70,1.70 0 0 1 1.70,-5.00 C1.70,-3.47 0.85,-2.68 0,0 Z"/><path transform="translate(610.00,596.40) rotate(288)" d="M0,0 C-0.85,-2.88 -1.70,-3.97 -1.70,-5.50 A1.70,1.70 0 0 1 1.70,-5.50 C1.70,-3.97 0.85,-2.88 0,0 Z"/><circle cx="610.00" cy="596.40" r="0.9"/></g>
<g fill="#000"><path transform="translate(807.00,840.20) rotate(0)" d="M0,0 C-0.85,-3.12 -1.70,-4.57 -1.70,-6.10 A1.70,1.70 0 0 1 1.70,-6.10 C1.70,-4.57 0.85,-3.12 0,0 Z"/><path transform="translate(807.00,840.20) rotate(72)" d="M0,0 C-0.85,-2.88 -1.70,-3.97 -1.70,-5.50 A1.70,1.70 0 0 1 1.70,-5.50 C1.70,-3.97 0.85,-2.88 0,0 Z"/><path transform="translate(807.00,840.20) rotate(144)" d="M0,0 C-0.85,-2.68 -1.70,-3.47 -1.70,-5.00 A1.70,1.70 0 0 1 1.70,-5.00 C1.70,-3.47 0.85,-2.68 0,0 Z"/><path transform="translate(807.00,840.20) rotate(216)" d="M0,0 C-0.85,-2.68 -1.70,-3.47 -1.70,-5.00 A1.70,1.70 0 0 1 1.70,-5.00 C1.70,-3.47 0.85,-2.68 0,0 Z"/><path transform="translate(807.00,840.20) rotate(288)" d="M0,0 C-0.85,-2.88 -1.70,-3.97 -1.70,-5.50 A1.70,1.70 0 0 1 1.70,-5.50 C1.70,-3.97 0.85,-2.88 0,0 Z"/><circle cx="807.00" cy="840.20" r="0.9"/></g>
<circle cx="575.40" cy="632.80" r="3.50" fill="#000"/>
<circle cx="575.40" cy="779.60" r="3.50" fill="#000"/>
<circle cx="575.40" cy="801.70" r="3.50" fill="#000"/>
<circle cx="569.50" cy="856.00" r="3.50" fill="#000"/>
<circle cx="581.40" cy="853.40" r="3.50" fill="#000"/>
<circle cx="575.40" cy="870.90" r="3.50" fill="#000"/>
<circle cx="575.40" cy="908.10" r="3.50" fill="#000"/>
<line x1="575.40" y1="780.20" x2="575.40" y2="848.70" stroke="#000" stroke-width="1.3"/>
<line x1="563.30" y1="780.20" x2="588.10" y2="780.20" stroke="#000" stroke-width="1.3"/>
<line x1="563.30" y1="848.70" x2="588.10" y2="848.70" stroke="#000" stroke-width="1.3"/>
<line x1="551.50" y1="814.60" x2="599.80" y2="814.60" stroke="#000" stroke-width="2.6"/>
<rect x="644.80" y="880.60" width="7.00" height="7.00" fill="#f80000"/>
<rect x="627.40" y="894.30" width="7.00" height="7.00" fill="#f80000"/>
<rect x="627.40" y="904.60" width="7.00" height="7.00" fill="#f80000"/>
<rect x="638.50" y="899.10" width="7.00" height="7.00" fill="#f80000"/>
<rect x="650.80" y="891.70" width="7.00" height="7.00" fill="#f80000"/>
<rect x="650.80" y="903.50" width="7.00" height="7.00" fill="#f80000"/>
<rect x="662.60" y="899.10" width="7.00" height="7.00" fill="#f80000"/>
<line x1="648.30" y1="896.70" x2="648.30" y2="901.90" stroke="#f80000" stroke-width="1.3"/>
<line x1="636.50" y1="896.70" x2="660.20" y2="896.70" stroke="#f80000" stroke-width="1.3"/>
<line x1="636.50" y1="901.90" x2="660.20" y2="901.90" stroke="#f80000" stroke-width="1.3"/>
<line x1="624.30" y1="900.00" x2="672.00" y2="900.00" stroke="#f80000" stroke-width="2.6"/>
<circle cx="752.00" cy="898.70" r="3.45" fill="#000"/>
<circle cx="752.00" cy="908.00" r="3.45" fill="#000"/>
<circle cx="763.80" cy="893.30" r="3.45" fill="#000"/>
<circle cx="763.80" cy="901.90" r="3.45" fill="#000"/>
<circle cx="775.20" cy="893.00" r="3.45" fill="#000"/>
<circle cx="775.20" cy="904.20" r="3.45" fill="#000"/>
<circle cx="787.00" cy="903.80" r="3.45" fill="#000"/>
<line x1="769.50" y1="898.50" x2="769.50" y2="903.00" stroke="#000" stroke-width="1.3"/>
<line x1="762.00" y1="898.50" x2="777.00" y2="898.50" stroke="#000" stroke-width="1.3"/>
<line x1="762.00" y1="903.00" x2="777.00" y2="903.00" stroke="#000" stroke-width="1.3"/>
<line x1="745.70" y1="900.60" x2="793.90" y2="900.60" stroke="#000" stroke-width="2.6"/>
<rect x="827.40" y="883.70" width="7.00" height="7.00" fill="#f80000"/>
<rect x="827.40" y="890.20" width="7.00" height="7.00" fill="#f80000"/>
<rect x="827.40" y="899.40" width="7.00" height="7.00" fill="#f80000"/>
<rect x="838.80" y="890.80" width="7.00" height="7.00" fill="#f80000"/>
<rect x="850.80" y="878.80" width="7.00" height="7.00" fill="#f80000"/>
<rect x="850.80" y="886.00" width="7.00" height="7.00" fill="#f80000"/>
<rect x="850.80" y="895.50" width="7.00" height="7.00" fill="#f80000"/>
<line x1="842.50" y1="891.00" x2="842.50" y2="896.00" stroke="#f80000" stroke-width="1.3"/>
<line x1="839.00" y1="891.00" x2="846.00" y2="891.00" stroke="#f80000" stroke-width="1.3"/>
<line x1="839.00" y1="896.00" x2="846.00" y2="896.00" stroke="#f80000" stroke-width="1.3"/>
<line x1="818.70" y1="893.30" x2="866.30" y2="893.30" stroke="#f80000" stroke-width="2.6"/>
<text x="5.26" y="1033.90" font-family="Liberation Sans" font-weight="bold" font-size="34.49" textLength="20.90" lengthAdjust="spacingAndGlyphs">E</text>
<line x1="70.30" y1="1051.80" x2="70.30" y2="1452.40" stroke="#000" stroke-width="2.0"/>
<line x1="65.00" y1="1452.40" x2="336.40" y2="1452.40" stroke="#000" stroke-width="2.0"/>
<line x1="65.00" y1="1052.80" x2="70.30" y2="1052.80" stroke="#000" stroke-width="2.0"/>
<text x="49.57" y="1062.17" font-family="Liberation Serif" font-weight="bold" font-size="28.40" textLength="13.77" lengthAdjust="spacingAndGlyphs">2</text>
<line x1="65.00" y1="1152.70" x2="70.30" y2="1152.70" stroke="#000" stroke-width="2.0"/>
<text x="49.70" y="1162.07" font-family="Liberation Serif" font-weight="bold" font-size="28.40" textLength="13.77" lengthAdjust="spacingAndGlyphs">1</text>
<line x1="65.00" y1="1252.60" x2="70.30" y2="1252.60" stroke="#000" stroke-width="2.0"/>
<text x="49.43" y="1261.90" font-family="Liberation Serif" font-weight="bold" font-size="28.40" textLength="13.77" lengthAdjust="spacingAndGlyphs">0</text>
<line x1="65.00" y1="1352.50" x2="70.30" y2="1352.50" stroke="#000" stroke-width="2.0"/>
<text x="40.47" y="1361.87" font-family="Liberation Serif" font-weight="bold" font-size="28.40" textLength="22.95" lengthAdjust="spacingAndGlyphs">-1</text>
<line x1="65.00" y1="1452.40" x2="70.30" y2="1452.40" stroke="#000" stroke-width="2.0"/>
<text x="40.34" y="1461.77" font-family="Liberation Serif" font-weight="bold" font-size="28.40" textLength="22.95" lengthAdjust="spacingAndGlyphs">-2</text>
<line x1="146.30" y1="1452.40" x2="146.30" y2="1457.40" stroke="#000" stroke-width="2.0"/>
<line x1="260.20" y1="1452.40" x2="260.20" y2="1457.40" stroke="#000" stroke-width="2.0"/>
<line x1="82.4" y1="1253" x2="332" y2="1253" stroke="#000" stroke-width="4" stroke-dasharray="0 12.2" stroke-linecap="round"/>
<text x="116.90" y="1482.90" font-family="Liberation Serif, serif" font-weight="bold" font-size="28.94" textLength="59.59" lengthAdjust="spacingAndGlyphs" fill="#000">WST</text>
<text x="230.92" y="1482.90" font-family="Liberation Serif, serif" font-weight="bold" font-size="28.94" textLength="55.34" lengthAdjust="spacingAndGlyphs" fill="#000">SHR</text>
<g fill="#000"><path transform="translate(214.70,1089.40) rotate(0)" d="M0,0 C-0.85,-3.12 -1.70,-4.57 -1.70,-6.10 A1.70,1.70 0 0 1 1.70,-6.10 C1.70,-4.57 0.85,-3.12 0,0 Z"/><path transform="translate(214.70,1089.40) rotate(72)" d="M0,0 C-0.85,-2.88 -1.70,-3.97 -1.70,-5.50 A1.70,1.70 0 0 1 1.70,-5.50 C1.70,-3.97 0.85,-2.88 0,0 Z"/><path transform="translate(214.70,1089.40) rotate(144)" d="M0,0 C-0.85,-2.68 -1.70,-3.47 -1.70,-5.00 A1.70,1.70 0 0 1 1.70,-5.00 C1.70,-3.47 0.85,-2.68 0,0 Z"/><path transform="translate(214.70,1089.40) rotate(216)" d="M0,0 C-0.85,-2.68 -1.70,-3.47 -1.70,-5.00 A1.70,1.70 0 0 1 1.70,-5.00 C1.70,-3.47 0.85,-2.68 0,0 Z"/><path transform="translate(214.70,1089.40) rotate(288)" d="M0,0 C-0.85,-2.88 -1.70,-3.97 -1.70,-5.50 A1.70,1.70 0 0 1 1.70,-5.50 C1.70,-3.97 0.85,-2.88 0,0 Z"/><circle cx="214.70" cy="1089.40" r="0.9"/></g>
<circle cx="137.10" cy="1103.80" r="4.90" fill="#000"/>
<circle cx="155.80" cy="1102.90" r="4.90" fill="#000"/>
<circle cx="146.50" cy="1154.80" r="4.90" fill="#000"/>
<circle cx="146.50" cy="1166.10" r="4.90" fill="#000"/>
<circle cx="146.50" cy="1179.10" r="4.90" fill="#000"/>
<circle cx="146.50" cy="1199.30" r="4.90" fill="#000"/>
<circle cx="146.50" cy="1348.30" r="4.90" fill="#000"/>
<line x1="146.50" y1="1147.40" x2="146.50" y2="1210.50" stroke="#000" stroke-width="2.0"/>
<line x1="127.60" y1="1147.40" x2="165.20" y2="1147.40" stroke="#000" stroke-width="2.0"/>
<line x1="127.60" y1="1210.50" x2="165.20" y2="1210.50" stroke="#000" stroke-width="2.0"/>
<line x1="108.90" y1="1179.10" x2="183.90" y2="1179.10" stroke="#000" stroke-width="3.0"/>
<rect x="255.80" y="1235.90" width="9.60" height="9.60" fill="#f80000"/>
<rect x="255.80" y="1249.90" width="9.60" height="9.60" fill="#f80000"/>
<rect x="255.80" y="1278.00" width="9.60" height="9.60" fill="#f80000"/>
<rect x="237.40" y="1283.90" width="9.60" height="9.60" fill="#f80000"/>
<rect x="274.50" y="1282.80" width="9.60" height="9.60" fill="#f80000"/>
<rect x="255.80" y="1295.20" width="9.60" height="9.60" fill="#f80000"/>
<rect x="246.30" y="1359.80" width="9.60" height="9.60" fill="#f80000"/>
<rect x="265.00" y="1355.90" width="9.60" height="9.60" fill="#f80000"/>
<line x1="260.60" y1="1281.60" x2="260.60" y2="1313.30" stroke="#f80000" stroke-width="2.0"/>
<line x1="242.20" y1="1281.60" x2="279.30" y2="1281.60" stroke="#f80000" stroke-width="2.0"/>
<line x1="242.20" y1="1313.30" x2="279.30" y2="1313.30" stroke="#f80000" stroke-width="2.0"/>
<line x1="223.00" y1="1297.00" x2="298.50" y2="1297.00" stroke="#f80000" stroke-width="2.6"/>
<text transform="translate(29.10,1326.30) rotate(-90)" x="-0.30" y="0" font-family="Liberation Serif, serif" font-weight="bold" font-size="20.61" textLength="33.85" lengthAdjust="spacingAndGlyphs">Log</text>
<text transform="translate(33.70,1290.00) rotate(-90)" x="-1.16" y="0" font-family="Liberation Serif, serif" font-weight="bold" font-size="16.24" textLength="14.55" lengthAdjust="spacingAndGlyphs">10</text>
<text transform="translate(29.10,1273.70) rotate(-90)" x="-0.93" y="0" font-family="Liberation Serif, serif" font-weight="bold" font-size="19.71" textLength="117.83" lengthAdjust="spacingAndGlyphs">(Ratio C/NC)</text>
</svg>
</body></html>
